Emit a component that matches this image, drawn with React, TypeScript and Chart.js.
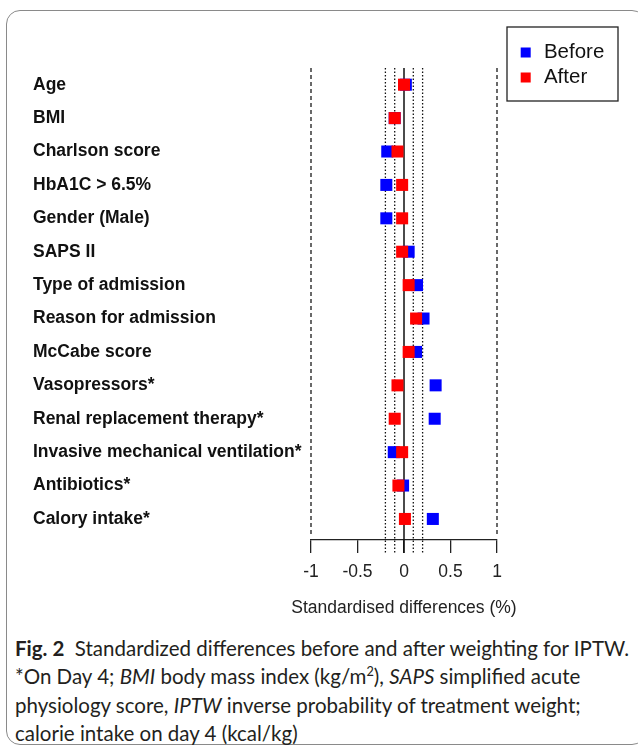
import React, { useEffect, useRef } from 'react';
import { Chart, registerables } from 'chart.js';

Chart.register(...registerables);

// ---------- data ----------
const categories = [
  'Age',
  'BMI',
  'Charlson score',
  'HbA1C > 6.5%',
  'Gender (Male)',
  'SAPS II',
  'Type of admission',
  'Reason for admission',
  'McCabe score',
  'Vasopressors*',
  'Renal replacement therapy*',
  'Invasive mechanical ventilation*',
  'Antibiotics*',
  'Calory intake*',
];
const beforeValues = [0.02, -0.10, -0.18, -0.19, -0.19, 0.05, 0.14, 0.21, 0.13, 0.34, 0.33, -0.11, -0.01, 0.31];
const afterValues = [0.0, -0.10, -0.07, -0.02, -0.02, -0.02, 0.05, 0.13, 0.05, -0.07, -0.10, -0.02, -0.06, 0.01];
const xTicks = [-1, -0.5, 0, 0.5, 1];
const xTickLabels = ['-1', '-0.5', '0', '0.5', '1'];
const dashedRefs = [-1, 1];
const dottedRefs = [-0.2, -0.1, 0.1, 0.2];
const solidRefs = [0];
const seriesNames = ['Before', 'After'];
const xTitle = 'Standardised differences (%)';

const FONT = "'Liberation Sans', Arial, Helvetica, sans-serif";

const legendPlacer = {
  id: 'legendPlacer',
  beforeDraw(chart: any) {
    const lg = chart.legend;
    if (!lg) return;
    const L = 513.2;
    const T = 37.75;
    lg.left = L;
    lg.top = T;
    lg.right = L + 110;
    lg.bottom = T + 70;
    lg.width = 110;
    lg.height = 70;
  },
  afterDraw(chart: any) {
    const lg = chart.legend;
    const ctx = chart.ctx;
    ctx.save();
    if (lg) {
      ctx.strokeStyle = '#222';
      ctx.lineWidth = 1.3;
      ctx.strokeRect(lg.left - 6.2, lg.top - 10.75, 111, 74);
    }
    // x-axis title, centred on the plot area (not squeezed to the axis width)
    const ca = chart.chartArea;
    ctx.fillStyle = '#222';
    ctx.font = `17.5px ${FONT}`;
    ctx.textAlign = 'center';
    ctx.textBaseline = 'middle';
    ctx.fillText(xTitle, (ca.left + ca.right) / 2, ca.bottom + 68);
    ctx.restore();
  },
};

export default function App() {
  const ref = useRef<HTMLCanvasElement | null>(null);

  useEffect(() => {
    if (!ref.current) return;
    const rows = categories.map((_, i) => i + 1);
    const vline = (x: number, y0: number, y1: number, dash: number[], color: string, w: number) => ({
      label: '',
      data: [
        { x, y: y0 },
        { x, y: y1 },
      ],
      showLine: true,
      pointRadius: 0,
      borderColor: color,
      backgroundColor: color,
      borderWidth: w,
      borderDash: dash,
      clip: false as any,
    });

    const chart = new Chart(ref.current, {
      type: 'scatter',
      data: {
        datasets: [
          {
            label: seriesNames[1],
            data: afterValues.map((v, i) => ({ x: v, y: rows[i] })),
            pointStyle: 'rect',
            pointRadius: 8.5,
            pointHoverRadius: 8.5,
            borderWidth: 0,
            backgroundColor: '#ff0000',
            borderColor: '#ff0000',
          },
          {
            label: seriesNames[0],
            data: beforeValues.map((v, i) => ({ x: v, y: rows[i] })),
            pointStyle: 'rect',
            pointRadius: 8.5,
            pointHoverRadius: 8.5,
            borderWidth: 0,
            backgroundColor: '#0000ff',
            borderColor: '#0000ff',
          },
          ...dashedRefs.map((x) => vline(x, 0.5, 14.45, [4, 3], '#444', 1.6)),
          ...dottedRefs.map((x) => vline(x, 0.5, 15.02, [1.5, 2], '#111', 1.3)),
          ...solidRefs.map((x) => vline(x, 0.5, 15.02, [], '#111', 1.5)),
        ] as any,
      },
      options: {
        responsive: false,
        animation: false,
        devicePixelRatio: 1,
        layout: { padding: { left: 33, right: 140, top: 68, bottom: 5 } },
        plugins: {
          tooltip: { enabled: false },
          legend: {
            display: true,
            position: 'right',
            align: 'start',
            maxWidth: 1,
            labels: {
              usePointStyle: true,
              pointStyle: 'rect',
              boxWidth: 16,
              boxHeight: 10,
              padding: 4.5,
              color: '#111',
              font: { family: FONT, size: 20.5 },
              filter: (item: any) => item.datasetIndex < 2,
              sort: (a: any, b: any) => b.datasetIndex - a.datasetIndex,
            },
          } as any,
        },
        scales: {
          x: {
            type: 'linear',
            position: 'bottom',
            min: -1,
            max: 1,
            afterBuildTicks: (s: any) => {
              s.ticks = xTicks.map((v) => ({ value: v }));
            },
            afterFit: (s: any) => {
              s.height = 80;
            },
            ticks: {
              autoSkip: false,
              maxRotation: 0,
              padding: 9,
              color: '#222',
              font: { family: FONT, size: 17.5 },
              callback: (_v: any, i: number) => xTickLabels[i],
            },
            grid: {
              display: true,
              drawOnChartArea: false,
              drawTicks: true,
              tickLength: 13,
              color: '#222',
              lineWidth: 1.3,
            },
            border: { display: true, color: '#222', width: 1.3 },
            title: { display: false },
          },
          y: {
            type: 'linear',
            reverse: true,
            min: 0.5,
            max: 14.63,
            afterFit: (s: any) => {
              s.width = 278;
            },
            afterBuildTicks: (s: any) => {
              s.ticks = rows.map((v) => ({ value: v }));
            },
            ticks: {
              autoSkip: false,
              crossAlign: 'far',
              padding: 0,
              color: '#111',
              font: { family: FONT, size: 17.5, weight: 'bold' },
              callback: (_v: any, i: number) => categories[i],
            },
            grid: { display: false },
            border: { display: false },
          },
        },
      } as any,
      plugins: [legendPlacer],
    });
    return () => chart.destroy();
  }, []);

  return (
    <div style={{ position: 'absolute', left: 0, top: 0, width: 638, height: 746, overflow: 'hidden', background: '#fff' }}>
      <div
        style={{
          position: 'absolute',
          left: 6,
          top: 10,
          width: 640,
          height: 735,
          boxSizing: 'border-box',
          border: '1.5px solid #8a8a8a',
          borderRadius: 14,
        }}
      />
      <canvas ref={ref} width={638} height={625} style={{ position: 'absolute', left: 0, top: 0, width: 638, height: 625 }} />
      <div
        style={{
          position: 'absolute',
          left: 15,
          top: 633.5,
          fontFamily: "Lato, 'Open Sans', sans-serif",
          fontSize: 20.5,
          lineHeight: '28.5px',
          color: '#231f20',
          whiteSpace: 'nowrap',
        }}
      >
        <div>
          <b>Fig. 2</b>&nbsp;&nbsp;Standardized differences before and after weighting for IPTW.
        </div>
        <div>
          *On Day 4; <i>BMI</i> body mass index (kg/m<sup style={{ fontSize: '0.62em', lineHeight: 0, verticalAlign: '0.6em' }}>2</sup>), <i>SAPS</i> simplified acute
        </div>
        <div>
          physiology score, <i>IPTW</i> inverse probability of treatment weight;
        </div>
        <div>calorie intake on day 4 (kcal/kg)</div>
      </div>
    </div>
  );
}
